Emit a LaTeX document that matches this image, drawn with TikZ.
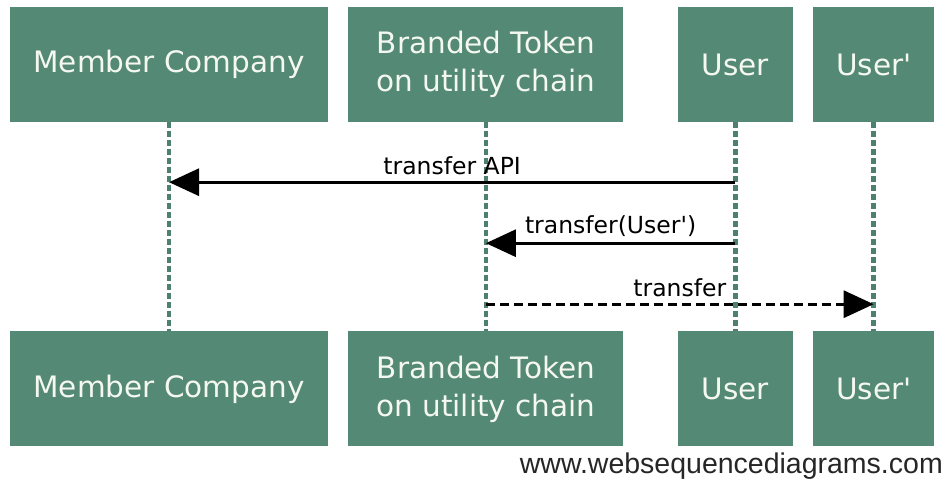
\documentclass[tikz,border=0pt]{standalone}
\usepackage{fontspec}
\setmainfont{DejaVu Sans}[Ligatures=TeXOff]
\newfontfamily\wsdfont{Liberation Sans}
\usetikzlibrary{positioning,arrows.meta,calc}
\definecolor{boxgreen}{RGB}{84,137,117}
\definecolor{lifegreen}{RGB}{76,128,112}
\definecolor{boxtext}{RGB}{244,248,240}
\tikzstyle{pbox}=[rectangle, fill=boxgreen, text=boxtext, minimum height=115pt, inner sep=0pt, align=center, font=\fontsize{29.5}{38}\selectfont]
\tikzstyle{lline}=[draw=lifegreen, line width=4.5pt, dash pattern=on 6pt off 3pt]
\tikzstyle{msg}=[-{Triangle[length=30pt,width=27pt]}, line width=3pt]
\tikzstyle{rmsg}=[msg, dash pattern=on 9pt off 5pt]
\tikzstyle{mlabel}=[anchor=base, yshift=8pt, inner sep=0pt, font=\fontsize{23.5}{28}\selectfont]

\begin{document}
\begin{tikzpicture}[node distance=0mm]
\useasboundingbox (0,0) rectangle (947pt,-481pt);
% participants, top row
\node (MC) [pbox, minimum width=318pt] at (169pt,-64.5pt) {Member Company};
\node (BT) [pbox, minimum width=275pt, 
right=20pt of MC] {Branded Token\\on utility chain};
\node (USER) [pbox, minimum width=115pt, 
right=54pt of BT] {User};
\node (USERP) [pbox, minimum width=121pt, 
right=20pt of USER] {User'};
% participants, bottom row
\node (MCB) [pbox, minimum width=318pt, below=209pt of MC] {Member Company};
\node (BTB) [pbox, minimum width=275pt, below=209pt of BT] {Branded Token\\on utility chain};
\node (USERB) [pbox, minimum width=115pt, below=209pt of USER] {User};
\node (USERPB) [pbox, minimum width=121pt, below=209pt of USERP] {User'};
% lifelines
 \draw[lline]   (MC.south) -- (MCB.north) ; 
 \draw[lline]   (BT.south) -- (BTB.north) ; 
 \draw[lline]   (USER.south) -- (USERB.north) ; 
 \draw[lline]   (USERP.south) -- (USERPB.north) ; 
% messages
 \draw[msg]   ([yshift=-60pt]USER.south) -- ([yshift=-60pt]USER.south -| MC.south) node[mlabel, midway] {transfer API} ; 
 \draw[msg]   ([yshift=-121pt]USER.south) -- ([yshift=-121pt]USER.south -| BT.south) node[mlabel, midway, yshift=2pt] {transfer(User')} ; 
 \draw[rmsg]  ([yshift=-182pt]BT.south) -- ([yshift=-182pt]BT.south -| USERP.south) node[mlabel, midway] {transfer} ; 
\node (WSD) [anchor=base east, inner sep=0pt, text=black!85, font=\wsdfont\fontsize{28.5}{32}\selectfont] at (943pt,-473pt) {www.websequencediagrams.com};
\end{tikzpicture}
\end{document}
